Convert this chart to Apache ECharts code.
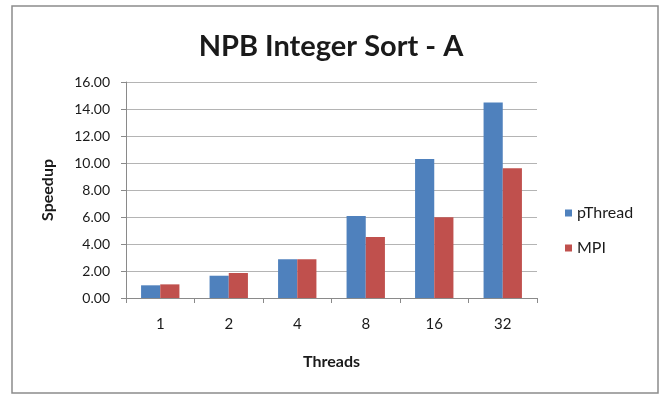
<!DOCTYPE html>
<html>
<head>
<meta charset="utf-8">
<script src="https://cdn.jsdelivr.net/npm/echarts@6/dist/echarts.min.js"></script>
<style>
  html, body { margin: 0; padding: 0; background: #fff; }
  #chart { width: 662px; height: 395px; }
</style>
</head>
<body>
<div id="chart"></div>
<script>
// NPB Integer Sort, class A: speedup by thread count
const threads = ['1', '2', '4', '8', '16', '32'];
const pThreadSpeedup = [0.94, 1.65, 2.87, 6.08, 10.29, 14.49];
const mpiSpeedup = [1.01, 1.85, 2.87, 4.52, 5.98, 9.62];
const yTicks = { min: 0, max: 16, step: 2 };

const FONT = 'Lato, "Open Sans", sans-serif';
const TEXT = '#1a1a1a';
const AXIS = '#8a8a8a';

const chart = echarts.init(document.getElementById('chart'), null, { renderer: 'canvas' });
chart.setOption({
  backgroundColor: '#ffffff',
  animation: false,
  textStyle: { fontFamily: FONT },
  graphic: [{
    type: 'rect',
    shape: { x: 12, y: 6, width: 646, height: 387 },
    style: { fill: 'none', stroke: '#8c8c8c', lineWidth: 1.5 },
    silent: true
  }],
  title: {
    text: 'NPB Integer Sort - A',
    left: 'center',
    top: 27,
    textStyle: { fontFamily: FONT, fontWeight: 'bold', fontSize: 29, color: TEXT }
  },
  legend: {
    orient: 'vertical',
    left: 560,
    top: 200,
    itemWidth: 7,
    itemHeight: 7,
    itemGap: 19,
    icon: 'rect',
    textStyle: { fontFamily: FONT, fontSize: 16, color: TEXT },
    data: ['pThread', 'MPI']
  },
  grid: { left: 126, top: 82, width: 411, height: 216, containLabel: false },
  xAxis: {
    type: 'category',
    data: threads,
    name: 'Threads',
    nameLocation: 'middle',
    nameGap: 56,
    nameTextStyle: { fontFamily: FONT, fontWeight: 'bold', fontSize: 16, color: TEXT },
    axisLine: { show: true, lineStyle: { color: AXIS, width: 1 } },
    axisTick: { show: true, alignWithLabel: false, length: 5, lineStyle: { color: AXIS } },
    axisLabel: { fontFamily: FONT, fontSize: 15, color: TEXT, margin: 19 },
    splitLine: { show: false }
  },
  yAxis: {
    type: 'value',
    min: yTicks.min,
    max: yTicks.max,
    interval: yTicks.step,
    name: 'Speedup',
    nameLocation: 'middle',
    nameGap: 70,
    nameRotate: 90,
    nameTextStyle: { fontFamily: FONT, fontWeight: 'bold', fontSize: 16, color: TEXT },
    axisLine: { show: true, lineStyle: { color: AXIS, width: 1 } },
    axisTick: { show: true, length: 5, lineStyle: { color: AXIS } },
    axisLabel: { fontFamily: FONT, fontSize: 14, color: TEXT, margin: 16,
      formatter: v => v.toFixed(2) },
    splitLine: { show: true, lineStyle: { color: '#b4b4b4', width: 1 } }
  },
  series: [
    {
      name: 'pThread',
      type: 'bar',
      data: pThreadSpeedup,
      itemStyle: { color: '#4F81BD' },
      barGap: '0%',
      barCategoryGap: '44%'
    },
    {
      name: 'MPI',
      type: 'bar',
      data: mpiSpeedup,
      itemStyle: { color: '#C0504D' },
      barGap: '0%',
      barCategoryGap: '44%'
    }
  ]
});
</script>
</body>
</html>
